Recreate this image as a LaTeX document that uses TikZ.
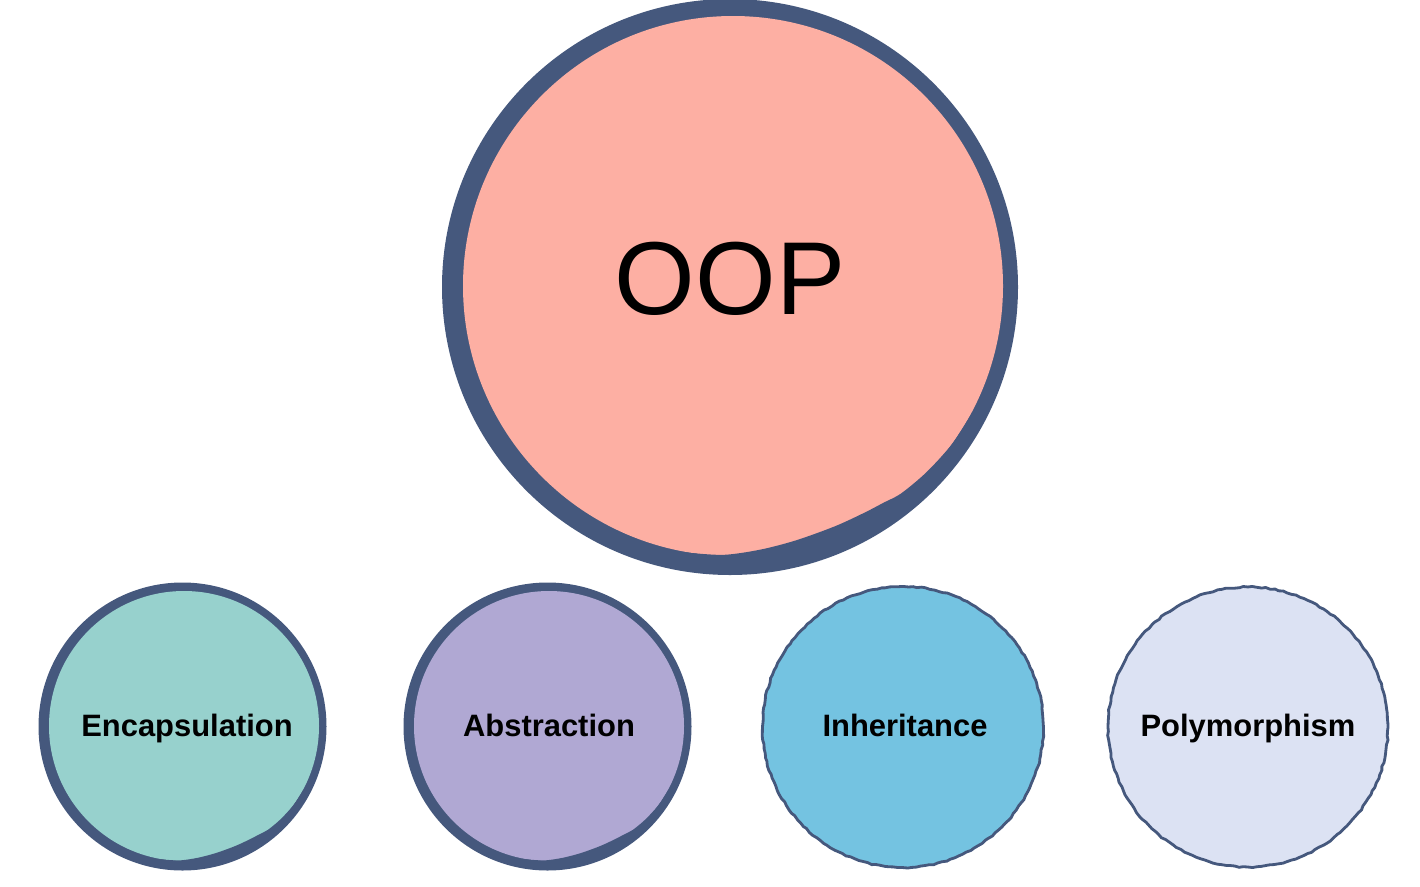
\documentclass[tikz,border=0pt]{standalone}
\usepackage{fontspec}
\newfontfamily\labelfont{Liberation Sans}
\usetikzlibrary{decorations.pathmorphing}
\definecolor{edgeblue}{RGB}{69,88,125}
\definecolor{oopred}{RGB}{253,175,163}
\definecolor{encteal}{RGB}{151,209,205}
\definecolor{abslilac}{RGB}{176,168,211}
\definecolor{inhblue}{RGB}{116,195,225}
\definecolor{polylav}{RGB}{220,226,243}
% hand drawn bubble with a heavy rim and a dent at the lower right
\tikzset{
  pics/blob/.style={code={
    \fill[edgeblue] (-3,1) circle[radius=288];
    \fill[#1] (0,0) circle[radius=270];
    \fill[edgeblue] (28:273) arc[start angle=28, end angle=100, radius=273]
      -- plot[smooth] coordinates {(100:270.6) (92:269) (84:265) (76:262) (67:261)
      (60:262) (55:264) (51:267) (44:268.5) (36:270) (28:270.6)} -- cycle;
  }}
}
\begin{document}
\begin{tikzpicture}[x=0.02cm,y=-0.02cm]
  %
  \tikzstyle{rough} = [circle, inner sep=0pt, draw=edgeblue, line width=1.6pt,
    decorate, decoration={random steps, segment length=2.5pt, amplitude=0.35pt}]
  \tikzstyle{pillar} = [anchor=base, font=\labelfont\bfseries\fontsize{17.6}{20}\selectfont]
  \useasboundingbox (0,0) rectangle (1420,886);
  % bubbles
  \pic at (733,286) {blob=oopred};
  \pic[scale=0.5] at (184,726) {blob=encteal};
  \pic[scale=0.5] at (549,726) {blob=abslilac};
  \node[rough, fill=inhblue, minimum size=5.62cm] (inh) at (903,727) {};
  \node[rough, fill=polylav, minimum size=5.6cm] (poly) at (1248,727) {};
  % labels
  \node[anchor=base, font=\labelfont\fontsize{59}{62}\selectfont] (ooptext) at (730,314) {OOP};
  \node[pillar] (enctext) at (187,736) {Encapsulation};
  \node[pillar] (abstext) at (549,736) {Abstraction};
  \node[pillar] (inhtext) at (905,736) {Inheritance};
  \node[pillar] (polytext) at (1248,736) {Polymorphism};
\end{tikzpicture}
\end{document}
